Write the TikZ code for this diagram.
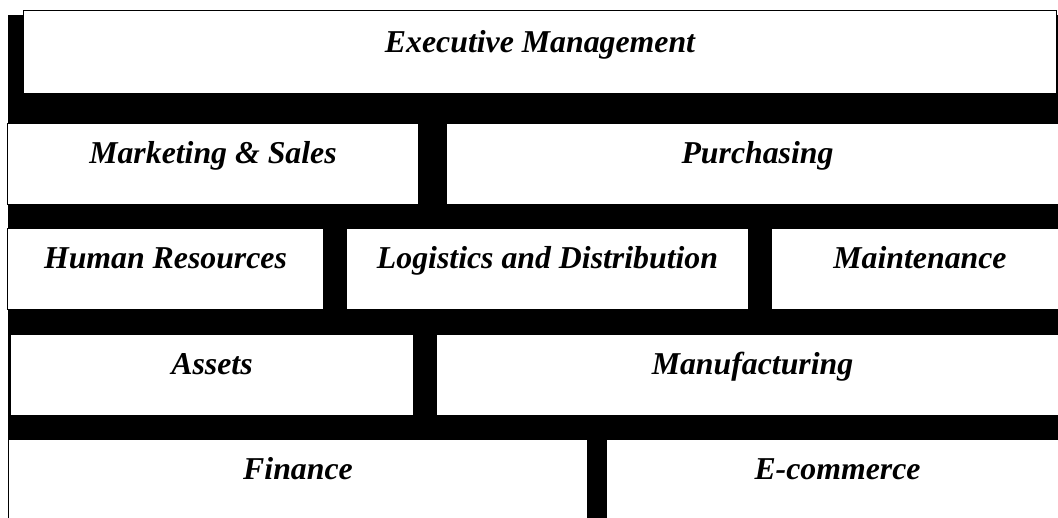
\documentclass[tikz,border=0pt]{standalone}
\usepackage{fontspec}
\setmainfont{Liberation Serif}
\usepackage{tikz}
\usetikzlibrary{positioning}

\tikzset{
  dept/.style={draw, line width=0.5pt, fill=white, inner sep=0pt, anchor=north west,
    font=\fontsize{15.9}{19}\selectfont\bfseries\itshape,
    text height=20pt, text depth=20.5pt}
}

\begin{document}
\begin{tikzpicture}[x=0.5pt, y=-0.5pt]
\clip (0,0) rectangle (1058,518);

% Black backdrop
\fill[black] (8,15) rectangle (1058,518);

% Top level
\node[dept, minimum width=516.5pt, text height=21pt] (exec) at (23,10) {Executive Management};

% Second row
\node[dept, minimum width=205.5pt] (mkt) at (7,123) {Marketing \& Sales};
\node[dept, minimum width=311pt] (purch) at (446,123) {Purchasing};

% Third row
\node[dept, minimum width=158pt] (hr) at (7,228) {Human Resources};
\node[dept, minimum width=201pt] (logi) at (346,228) {Logistics and Distribution};
\node[dept, minimum width=148.5pt] (maint) at (771,228) {Maintenance};

% Fourth row
\node[dept, minimum width=201.5pt] (assets) at (10,334) {Assets};
\node[dept, minimum width=316pt] (manuf) at (436,334) {Manufacturing};

% Bottom row
\node[dept, minimum width=289.5pt] (fin) at (8,439) {Finance};
\node[dept, minimum width=231pt] (ecom) at (606,439) {E-commerce};
\end{tikzpicture}
\end{document}
